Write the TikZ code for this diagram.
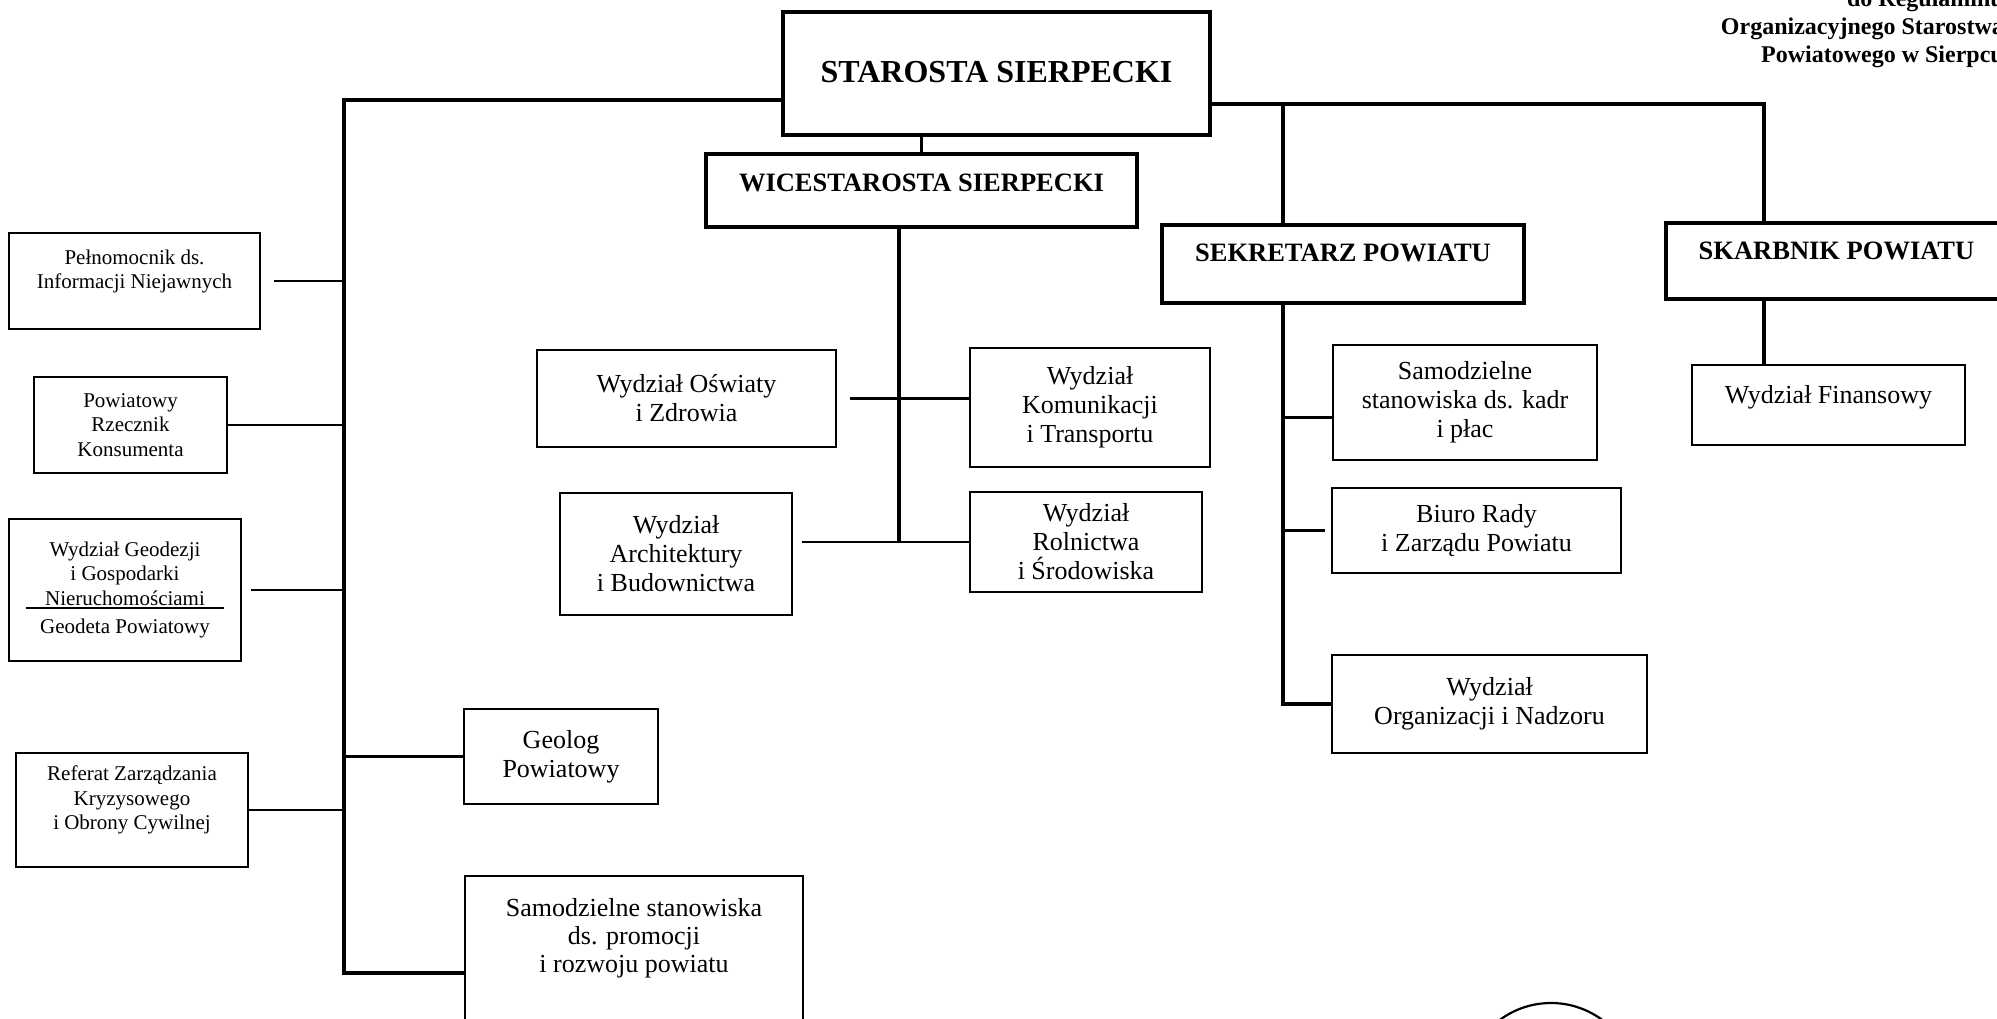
\documentclass[tikz,border=0pt]{standalone}
\usepackage{fontspec}
\setmainfont{Liberation Serif}
\usetikzlibrary{positioning}
\begin{document}
\begin{tikzpicture}
        [x=1pt, y=-1pt,
        unit/.style={draw, line width=2.8pt, align=center, inner sep=0pt, font=\fontsize{26}{29}\selectfont},
        unitSmall/.style={unit, font=\fontsize{21}{24.5}\selectfont},
        head/.style={draw, line width=3.2pt, align=center, inner sep=0pt, text depth=20pt, font=\bfseries\fontsize{26.5}{30}\selectfont},
        txt/.style={align=center, inner sep=0pt, font=\fontsize{26}{28}\selectfont},
        note/.style={anchor=base east, inner sep=0pt, font=\bfseries\fontsize{24}{28}\selectfont},
        link/.style={line width=2.3pt},
        trunk/.style={line width=3.8pt}]
        \useasboundingbox (0,0) rectangle (1997,1019);

        % naglowek
        \node[note] (hdrA) at (2004,7) {do Regulaminu};
        \node[note] (hdrB) at (2004,35) {Organizacyjnego Starostwa};
        \node[note] (hdrC) at (2004,63) {Powiatowego w Sierpcu};

        \node[head, minimum width=427pt, minimum height=123pt, text depth=3pt, font=\bfseries\fontsize{32}{36}\selectfont] (star) at (996.5,73.5) {STAROSTA SIERPECKI};
        \node[head, minimum width=431pt, minimum height=73pt, text depth=16pt] (wice) at (921.5,190.5) {WICESTAROSTA SIERPECKI};
        \node[head, minimum width=362pt, minimum height=78pt, text depth=22pt] (sekr) at (1343,264) {SEKRETARZ POWIATU};
        \node[head, minimum width=341pt, minimum height=76pt] (skarb) at (1836.5,261) {SKARBNIK POWIATU};

        \node[unitSmall, minimum width=251pt, minimum height=96pt, text depth=24pt] (pel) at (134.5,281) {Pełnomocnik ds.\\Informacji Niejawnych};
        \node[unitSmall, minimum width=193pt, minimum height=96pt] (rzecz) at (130.5,425) {Powiatowy\\Rzecznik\\Konsumenta};
        \node[unitSmall, minimum width=232pt, minimum height=142pt] (geo) at (125,590) {Wydział Geodezji\\i Gospodarki\\Nieruchomościami\\[4pt]Geodeta Powiatowy};
        \node[unitSmall, minimum width=232pt, minimum height=114pt, text depth=24pt] (ref) at (132,810) {Referat Zarządzania\\Kryzysowego\\i Obrony Cywilnej};
        \node[unit, minimum width=194pt, minimum height=95pt] (geol) at (561,756.5) {Geolog\\Powiatowy};
        \node[unit, minimum width=338pt, minimum height=170pt] (promo) at (634,961) {};
        \node[txt] (promoTxt) at (634,938) {Samodzielne stanowiska\\ds. promocji\\i rozwoju powiatu};

        \node[unit, minimum width=299pt, minimum height=97pt] (osw) at (686.5,398.5) {Wydział Oświaty\\i Zdrowia};
        \node[unit, minimum width=240pt, minimum height=119pt] (kom) at (1090,407.5) {Wydział\\Komunikacji\\i Transportu};
        \node[unit, minimum width=232pt, minimum height=122pt] (arch) at (676,554) {Wydział\\Architektury\\i Budownictwa};
        \node[unit, minimum width=232pt, minimum height=100pt] (rol) at (1086,542) {Wydział\\Rolnictwa\\i Środowiska};

        \node[unit, minimum width=264pt, minimum height=115pt] (kadr) at (1465,402.5) {Samodzielne\\stanowiska ds. kadr\\i płac};
        \node[unit, minimum width=289pt, minimum height=85pt] (biuro) at (1476.5,530.5) {Biuro Rady\\i Zarządu Powiatu};
        \node[unit, minimum width=315pt, minimum height=98pt] (orgn) at (1489.5,704) {Wydział\\Organizacji i Nadzoru};
        \node[unit, minimum width=273pt, minimum height=80pt, text depth=22pt] (fin) at (1828.5,405) {Wydział Finansowy};

        \coordinate (lt) at (344,100);
        \coordinate (lb) at (344,973);
        \coordinate (rt) at (1764,104);
        \coordinate (st) at (1283,104);
        \coordinate (mt) at (899,227);

        \draw[trunk] (star.west |- lt) -- (lt) -- (lb) -- (lb -| promo.west);
        \draw[trunk] (star.east |- rt) -- (rt) -- (rt |- skarb.north);
        \draw[trunk] (star.south -| wice.north) -- (wice.north);
        \draw[trunk] (st) -- (st |- sekr.north);
        \draw[trunk] (st |- sekr.south) -- (st |- orgn.west) -- (orgn.west);
        \draw[trunk] (mt) -- (mt |- rol.west);
        \draw[trunk] (skarb.south -| rt) -- (fin.north -| rt);

        \draw[link] ([xshift=13pt]pel.east) -- (pel.east -| lt);
        \draw[link] (rzecz.east) -- (rzecz.east -| lt);
        \draw[link] ([xshift=9pt]geo.east) -- (geo.east -| lt);
        \draw[link] (ref.east) -- (ref.east -| lt);
        \draw[link] (geol.west -| lt) -- (geol.west);
        \draw[link] ([xshift=13pt]osw.east) -- (osw.east -| kom.west);
        \draw[link] ([xshift=9pt]arch.east |- rol.west) -- (rol.west);
        \draw[link] ([yshift=-15pt]kadr.west -| st) -- ([yshift=-15pt]kadr.west);
        \draw[link] (biuro.west -| st) -- ([xshift=-6pt]biuro.west);

        \draw[link, line width=1.6pt] ([shift={(18,18)}]geo.west) -- ([shift={(-18,18)}]geo.east);%kreska
        \draw[line width=2.2pt] (1551,1089) circle[radius=86pt];
\end{tikzpicture}
\end{document}
